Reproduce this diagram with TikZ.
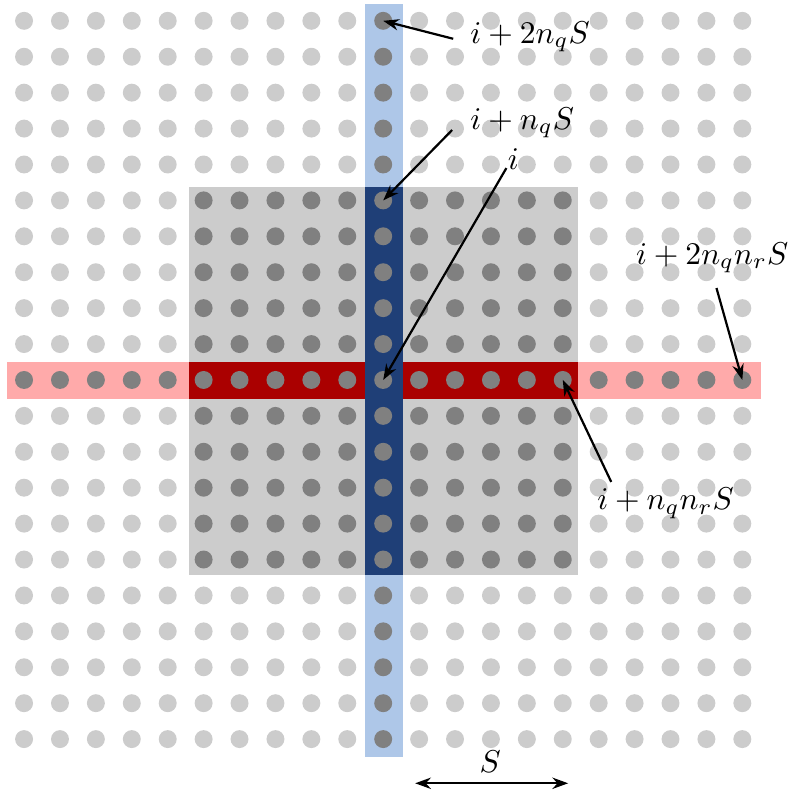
\documentclass[tikz,border=0pt]{standalone}
\usetikzlibrary{arrows.meta}
\definecolor{dotlight}{HTML}{CCCCCC}
\definecolor{dotdark}{HTML}{808080}
\definecolor{lblue}{HTML}{AEC7E8}
\definecolor{dblue}{HTML}{1F3F77}
\definecolor{lred}{HTML}{FFAAAA}
\definecolor{dred}{HTML}{AA0000}
\definecolor{sqgray}{HTML}{CCCCCC}
\begin{document}
\begin{tikzpicture}[x=0.4cm,y=0.4cm,
  dot/.style={circle,inner sep=0pt,minimum size=0.2cm,fill=#1},
  arr/.style={line width=0.7pt,-{Stealth[length=5pt,width=3.6pt]}},
  darr/.style={line width=0.7pt,{Stealth[length=5pt,width=3.6pt]}-{Stealth[length=5pt,width=3.6pt]}},
  lbl/.style={inner sep=1pt}]
\useasboundingbox (-10.67,-11.64) rectangle (11.34,10.58);
% strips and block
\fill[lblue] (-0.52,-10.5) rectangle (0.55,10.47);
\fill[lred] (-10.47,-0.53) rectangle (10.53,0.5);
\fill[sqgray] (-5.4,-5.43) rectangle (5.43,5.38);
\fill[dred] (-5.4,-0.53) rectangle (5.43,0.5);
\fill[dblue] (-0.52,-5.43) rectangle (0.55,5.38);
% dots
\foreach \i in {-10,...,10}{
  \foreach \j in {-10,...,10}{
    \pgfmathtruncatemacro\dk{or(and(abs(\i)<6,abs(\j)<6),or(\i==0,\j==0))}
    \pgfmathtruncatemacro\a{\i+10}
    \pgfmathtruncatemacro\b{\j+10}
    \ifnum\dk=1 \def\col{dotdark}\else\def\col{dotlight}\fi
    \node[dot=\col] (d\a-\b) at (\i,\j) {};
  }
}
% labels
\node[lbl] (l1) at (4.09,9.55) {$i+2n_qS$};
\node[lbl] (l2) at (3.87,7.16) {$i+n_qS$};
\node[lbl] (l3) at (3.62,6.16) {$i$};
\node[lbl] (l4) at (9.16,3.40) {$i+2n_qn_rS$};
\node[lbl] (l5) at (7.86,-3.43) {$i+n_qn_rS$};
\node[lbl] (l6) at (2.98,-10.64) {$S$};
% arrow tails
\coordinate (t1) at (1.95,9.5);
\coordinate (t2) at (1.92,6.96);
\coordinate (t3) at (3.43,5.9);
\coordinate (t4) at (9.28,2.56);
\coordinate (t5) at (6.35,-2.84);
\coordinate (s1) at (0.89,-11.23);
\coordinate (s2) at (5.15,-11.23);
\draw[arr] (t1) -- (d10-20.center);
\draw[arr] (t2) -- (d10-15.center);
\draw[arr] (t3) -- (d10-10.center);
\draw[arr] (t4) -- (d20-10.center);
\draw[arr] (t5) -- (d15-10.center);
\draw[darr] (s1) -- (s2);
\end{tikzpicture}
\end{document}
